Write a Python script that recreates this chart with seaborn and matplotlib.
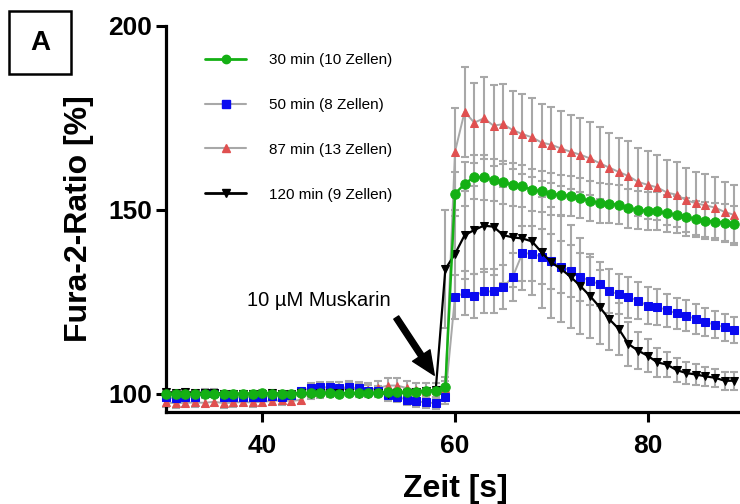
import numpy as np
import pandas as pd
import matplotlib
matplotlib.use("Agg")
import matplotlib.pyplot as plt
from matplotlib.lines import Line2D
from matplotlib.patches import Rectangle
import seaborn as sns

# Time axis [s], one sample per second
zeit = np.arange(30, 90)

# Mean Fura-2 ratio [%] per group
ratio_30 = [100.0, 99.9, 99.8, 99.9, 99.9, 100.0, 99.8, 99.9, 100.0, 100.0, 100.1, 100.0, 99.9, 100.0, 100.1,
            100.2, 100.2, 100.1, 100.0, 100.1, 100.2, 100.1, 100.3, 100.4, 100.4, 100.5, 100.5, 100.6, 100.7,
            101.9,
            154.4, 157.0, 159.0, 158.8, 158.1, 157.5, 156.8, 156.4, 155.4, 155.0, 154.3, 154.0, 153.8, 153.2, 152.4,
            151.9, 151.6, 151.4, 150.4, 150.0, 149.7, 149.6, 149.0, 148.7, 148.1, 147.5, 147.0, 146.8, 146.5, 146.1]
ratio_50 = [99.0, 98.8, 99.0, 99.1, 100.2, 100.3, 99.2, 99.0, 99.0, 99.1, 99.2, 99.3, 99.2, 99.5, 100.6,
            101.5, 101.7, 101.7, 101.6, 101.7, 101.5, 100.8, 100.6, 99.5, 99.2, 98.3, 97.9, 97.6, 97.4,
            99.2,
            126.4, 127.3, 126.6, 127.8, 127.8, 128.9, 131.8, 138.2, 138.1, 137.2, 136.0, 134.5, 133.4, 131.8, 130.7,
            129.8, 127.8, 127.1, 126.2, 125.3, 123.9, 123.6, 122.7, 121.8, 121.2, 120.3, 119.4, 118.8, 118.0, 117.3]
ratio_87 = [97.6, 97.4, 97.5, 97.6, 97.5, 97.8, 97.4, 97.6, 97.7, 97.6, 97.8, 98.0, 98.2, 98.0, 98.3,
            100.5, 100.8, 101.0, 101.2, 101.3, 101.2, 101.0, 101.5, 102.2, 102.2, 101.5, 101.0, 100.8, 101.0,
            101.5,
            165.8, 176.7, 173.7, 174.9, 172.9, 173.3, 171.7, 170.6, 169.7, 168.3, 167.7, 166.7, 165.8, 165.0, 164.0,
            162.7, 161.5, 160.3, 159.2, 157.6, 156.8, 156.1, 154.7, 154.1, 152.6, 151.8, 151.2, 150.6, 149.4, 148.6]
ratio_120 = [100.4, 100.3, 100.4, 100.3, 100.2, 100.2, 100.0, 100.0, 99.9, 100.0, 100.0, 100.1, 100.0, 100.0, 100.1,
             100.0, 100.2, 100.3, 100.2, 100.1, 100.0, 100.0, 100.2, 100.0, 100.2, 100.3, 100.5, 100.6, 101.0,
             133.9,
             138.0, 143.1, 144.5, 145.7, 145.4, 143.1, 142.5, 142.2, 141.4, 138.4, 135.7, 133.9, 131.8, 129.3, 126.6,
             123.6, 120.3, 117.6, 113.5, 111.7, 110.3, 108.5, 107.9, 106.4, 105.6, 105.2, 104.7, 104.3, 103.5, 103.5]

# Standard error of the mean per group
sem_30 = [0.8] * 29 + [1.5] + [6.0, 6.0, 6.0, 6.0, 5.8, 5.8, 5.8, 5.7, 5.7, 5.6, 5.6, 5.5, 5.5, 5.5, 5.4,
                                5.4, 5.3, 5.3, 5.3, 5.2, 5.2, 5.2, 5.1, 5.1, 5.1, 5.0, 5.0, 5.0, 5.0, 5.0]
sem_50 = [1.0] * 15 + [1.5] * 14 + [2.0] + [6.0, 6.0, 6.0, 6.0, 6.0, 6.0, 6.5, 7.5, 7.5, 7.5, 7.5, 7.0, 7.0, 6.5, 6.5,
                                           6.0, 6.0, 5.5, 5.5, 5.0, 5.0, 4.8, 4.5, 4.3, 4.2, 4.0, 3.8, 3.7, 3.6, 3.5]
sem_87 = [1.2] * 15 + [2.0] * 14 + [3.0] + [12.0, 12.2, 10.9, 11.1, 11.0, 10.9, 10.7, 10.9, 10.7, 10.4, 10.4, 10.1,
                                           10.1, 10.1, 9.9, 9.7, 9.4, 9.3, 9.5, 9.3, 9.2, 8.9, 8.8, 8.8, 8.7, 8.6,
                                           8.5, 8.2, 8.2, 8.1]
sem_120 = [0.8] * 29 + [16.0] + [12.0, 12.0, 12.0, 12.5, 13.0, 13.0, 13.5, 14.0, 14.5, 15.0, 15.0, 14.5, 14.0, 13.0,
                                  11.5, 10.0, 8.5, 7.0, 6.0, 5.0, 4.5, 4.0, 3.5, 3.2, 3.0, 2.8, 2.6, 2.5, 2.5, 2.4]

labels = ["30 min (10 Zellen)", "50 min (8 Zellen)", "87 min (13 Zellen)", "120 min (9 Zellen)"]
y_ticks = [100, 150, 200]
x_ticks = [40, 60, 80]

GREEN = "#14b014"
BLUE = "#0a0af0"
RED = "#e05050"
GRAY = "#a8a8a8"

groups = [
    # label, mean, sem, line colour, marker, marker colour, marker size, line width
    (labels[2], ratio_87, sem_87, GRAY, "^", RED, 6.4, 1.4),
    (labels[1], ratio_50, sem_50, GRAY, "s", BLUE, 6.0, 1.4),
    (labels[3], ratio_120, sem_120, "black", "v", "black", 6.4, 1.6),
    (labels[0], ratio_30, sem_30, GREEN, "o", GREEN, 6.8, 1.8),
]

sns.set_theme(style="ticks")
plt.rcParams["font.family"] = ["Liberation Sans", "DejaVu Sans"]
plt.rcParams["text.color"] = "black"
plt.rcParams["axes.labelcolor"] = "black"
plt.rcParams["xtick.color"] = "black"
plt.rcParams["ytick.color"] = "black"

fig = plt.figure(figsize=(7.4, 5.04), dpi=100)
ax = fig.add_axes([166 / 740, 92 / 504, 578 / 740, 386 / 504])

# error bars first so that the markers sit on top
for label, mean, sem, lc, mk, mc, ms, lw in groups:
    ax.errorbar(zeit, mean, yerr=sem, fmt="none", ecolor=GRAY, elinewidth=1.5,
                capsize=2.8, capthick=1.5, zorder=1, clip_on=False)

for label, mean, sem, lc, mk, mc, ms, lw in groups:
    df = pd.DataFrame({"Zeit": zeit, "Ratio": mean})
    sns.lineplot(data=df, x="Zeit", y="Ratio", ax=ax, color=lc, linewidth=lw,
                 marker=mk, markersize=ms, markerfacecolor=mc, markeredgecolor=mc,
                 errorbar=None, clip_on=False, zorder=3)

ax.set_xlim(30, 90)
ax.set_ylim(95, 200)
ax.set_xticks(x_ticks)
ax.set_yticks(y_ticks)
ax.tick_params(axis="both", length=7, width=2.2, labelsize=19, color="black", labelcolor="black")
ax.tick_params(axis="x", pad=9)
ax.tick_params(axis="y", pad=3)
for lab in ax.get_xticklabels() + ax.get_yticklabels():
    lab.set_fontweight("bold")
for side in ("left", "bottom"):
    ax.spines[side].set_linewidth(2.3)
    ax.spines[side].set_color("black")
sns.despine(ax=ax)

ax.set_xlabel("Zeit [s]", fontsize=23, fontweight="bold", labelpad=11)
ax.set_ylabel("Fura-2-Ratio [%]", fontsize=23, fontweight="bold", labelpad=10)

# stimulus marker
ax.annotate("", xy=(57.85, 105.0), xytext=(53.9, 120.7),
            arrowprops=dict(facecolor="black", edgecolor="black", width=4.2,
                            headwidth=15, headlength=17, shrink=0))
ax.text(45.9, 125.3, "10 µM Muskarin", ha="center", va="center", fontsize=14.5)

handles = [
    Line2D([], [], color=GREEN, lw=2, marker="o", ms=6, mfc=GREEN, mec=GREEN),
    Line2D([], [], color=GRAY, lw=1.5, marker="s", ms=6, mfc=BLUE, mec=BLUE),
    Line2D([], [], color=GRAY, lw=1.5, marker="^", ms=6, mfc=RED, mec=RED),
    Line2D([], [], color="black", lw=2, marker="v", ms=6, mfc="black", mec="black"),
]
fig.legend(handles, labels, loc="upper left", bbox_to_anchor=(205 / 740, 1 - 53 / 504),
           frameon=False, fontsize=11, handlelength=2.7, handletextpad=1.5,
           labelspacing=2.02, borderpad=0, borderaxespad=0)

# panel letter
fig.add_artist(Rectangle((9 / 740, 1 - 74 / 504), 62 / 740, 63 / 504,
                         transform=fig.transFigure, fill=False, lw=1.8, edgecolor="black"))
fig.text(40 / 740, 1 - 43 / 504, "A", ha="center", va="center", fontsize=20, fontweight="bold")

fig.savefig("out.png", dpi=100)
